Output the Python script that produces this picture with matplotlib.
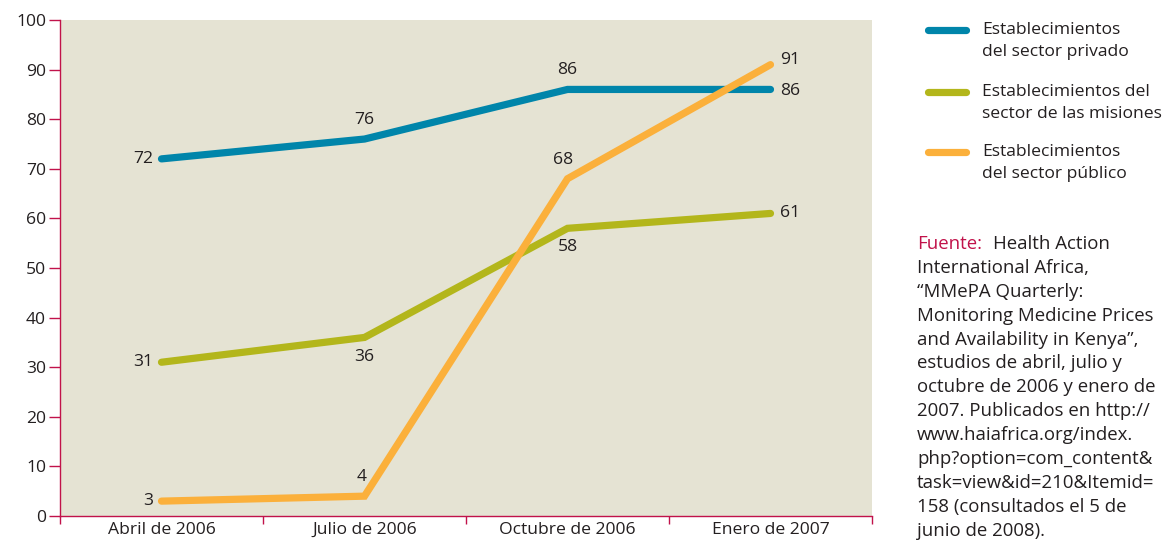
import matplotlib
matplotlib.use("Agg")
import matplotlib.pyplot as plt
from matplotlib.lines import Line2D

# data
periods = ["Abril de 2006", "Julio de 2006", "Octubre de 2006", "Enero de 2007"]
privado = [72, 76, 86, 86]
misiones = [31, 36, 58, 61]
publico = [3, 4, 68, 91]

names = [["Establecimientos", "del sector privado"],
         ["Establecimientos del", "sector de las misiones"],
         ["Establecimientos", "del sector público"]]
colors = ["#0085aa", "#b3b61b", "#fbb03b"]

source_lines = ["International Africa,", "\u201cMMePA Quarterly:",
                "Monitoring Medicine Prices", "and Availability in Kenya\u201d,",
                "estudios de abril, julio y", "octubre de 2006 y enero de",
                "2007. Publicados en http://", "www.haiafrica.org/index.",
                "php?option=com_content&", "task=view&id=210&Itemid=",
                "158 (consultados el 5 de", "junio de 2008)."]

# label offsets (points) per series/point, just placement
offs = [[(-6, 0, "right", "center"), (0, 8, "center", "bottom"),
         (0, 8, "center", "bottom"), (7, -1, "left", "center")],
        [(-6, 0, "right", "center"), (0, -8, "center", "top"),
         (0, -8, "center", "top"), (7, 0, "left", "center")],
        [(-6, 0, "right", "center"), (-2, 8, "center", "bottom"),
         (-3, 8, "center", "bottom"), (7, 3, "left", "center")]]

plt.rcParams["font.family"] = ["Open Sans", "DejaVu Sans"]
INK = "#231f20"
RED = "#c1124a"
FS = 12.6
W, H = 1165, 542

fig = plt.figure(figsize=(W / 100, H / 100), dpi=100)
ax = fig.add_axes([60 / W, 1 - 516 / H, 812 / W, 496 / H])
ax.set_facecolor("#e5e3d3")

x = range(len(periods))
for ser, col, off in zip([privado, misiones, publico], colors, offs):
    ax.plot(x, ser, color=col, lw=5.2, solid_capstyle="round",
            solid_joinstyle="miter", zorder=3)
    for xi, v, (dx, dy, ha, va) in zip(x, ser, off):
        ax.annotate(str(v), (xi, v), textcoords="offset points", xytext=(dx, dy),
                    ha=ha, va=va, fontsize=FS, color=INK, zorder=4)

ax.set_xlim(-0.5, 3.5)
ax.set_ylim(0, 100)
ax.set_yticks(range(0, 101, 10))
ax.set_xticks(list(x))
ax.set_xticklabels(periods)
ax.set_xticks([-0.5, 0.5, 1.5, 2.5, 3.5], minor=True)
ax.tick_params(axis="x", which="major", length=0, pad=4, labelsize=FS, labelcolor=INK)
ax.tick_params(axis="x", which="minor", length=6, direction="out", color=RED, width=1)
ax.tick_params(axis="y", length=8, direction="out", color=RED, width=1,
               labelsize=FS, labelcolor=INK, pad=2)
for sp in ("top", "right"):
    ax.spines[sp].set_visible(False)
for sp in ("left", "bottom"):
    ax.spines[sp].set_color(RED)
    ax.spines[sp].set_linewidth(1)

# legend drawn by hand, to the right of the plot
ly = [30, 92, 152]
for name, col, y in zip(names, colors, ly):
    fig.add_artist(Line2D([928 / W, 966 / W], [1 - y / H, 1 - y / H], color=col,
                          lw=5.2, solid_capstyle="round"))
    for k, line in enumerate(name):
        fig.text(982 / W, 1 - (y + 22 * k) / H, line, ha="left", va="center",
                 fontsize=FS, color=INK)

# source note
SFS = 13.4
fig.text(917 / W, 1 - 244 / H, "Fuente:", color=RED, fontsize=SFS, va="center")
fig.text(993 / W, 1 - 244 / H, "Health Action", color=INK, fontsize=SFS, va="center")
for i, line in enumerate(source_lines):
    fig.text(917 / W, 1 - (244 + 23.9 * (i + 1)) / H, line, color=INK,
             fontsize=SFS, va="center")

fig.savefig("out.png", dpi=100)
